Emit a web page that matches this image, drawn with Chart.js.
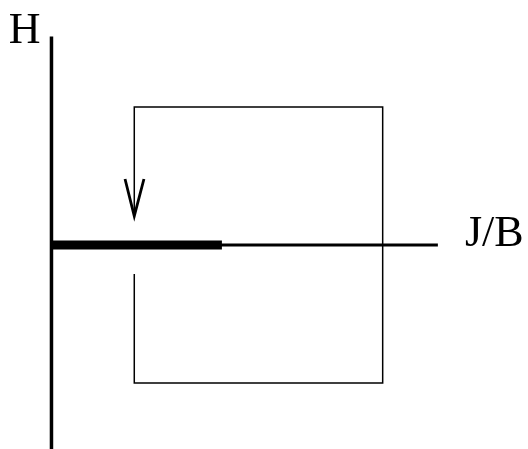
<!DOCTYPE html>
<html>
<head>
<meta charset="utf-8">
<script src="https://cdn.jsdelivr.net/npm/chart.js@4"></script>
<style>
  html, body { margin: 0; padding: 0; background: #fff; }
  #wrap { width: 528px; height: 449px; }
</style>
</head>
<body>
<div id="wrap"><canvas id="c" width="528" height="449"></canvas></div>
<script>
// Hysteresis sketch: H vs J/B, units where the loop's half-height is 1.
const axisH = [{ x: 0, y: -1.48 }, { x: 0, y: 1.51 }];
const axisJB = [{ x: 0, y: 0 }, { x: 2.8, y: 0 }];
const pinned = [{ x: 0, y: 0 }, { x: 1.235, y: 0 }];
const loop = [
  { x: 0.6, y: -0.21 }, { x: 0.6, y: -1 }, { x: 2.4, y: -1 },
  { x: 2.4, y: 1 }, { x: 0.6, y: 1 }, { x: 0.6, y: 0.21 },
];
const arrowHead = [{ x: 0.533, y: 0.478 }, { x: 0.6, y: 0.21 }, { x: 0.67, y: 0.478 }];
const labelH = 'H';
const labelJB = 'J/B';

const line = (data, width) => ({
  data,
  showLine: true,
  borderColor: '#000',
  borderWidth: width,
  pointRadius: 0,
  tension: 0,
  borderCapStyle: 'butt',
  borderJoinStyle: 'miter',
  clip: false,
});

// axis names drawn next to the ends of the axes
const axisNames = {
  id: 'axisNames',
  afterDraw(chart) {
    const { ctx, scales: { x, y } } = chart;
    ctx.save();
    ctx.fillStyle = '#000';
    ctx.font = '44px "Liberation Serif", "Times New Roman", serif';
    ctx.textBaseline = 'alphabetic';
    ctx.textAlign = 'right';
    ctx.fillText(labelH, x.getPixelForValue(0) - 11, y.getPixelForValue(axisH[1].y) + 6);
    ctx.textAlign = 'left';
    ctx.fillText(labelJB, x.getPixelForValue(axisJB[1].x) + 27, y.getPixelForValue(0) + 1.5);
    ctx.restore();
  },
};

new Chart(document.getElementById('c').getContext('2d'), {
  type: 'scatter',
  data: {
    datasets: [
      line(axisH, 3.5),
      line(axisJB, 3),
      line(pinned, 9),
      line(loop, 1.5),
      line(arrowHead, 2.8),
    ],
  },
  options: {
    responsive: false,
    animation: false,
    events: [],
    layout: { padding: 0 },
    plugins: { legend: { display: false }, tooltip: { enabled: false } },
    scales: {
      x: { type: 'linear', min: -0.373, max: 3.453, display: false },
      y: { type: 'linear', min: -1.478, max: 1.775, display: false },
    },
  },
  plugins: [axisNames],
});
</script>
</body>
</html>
